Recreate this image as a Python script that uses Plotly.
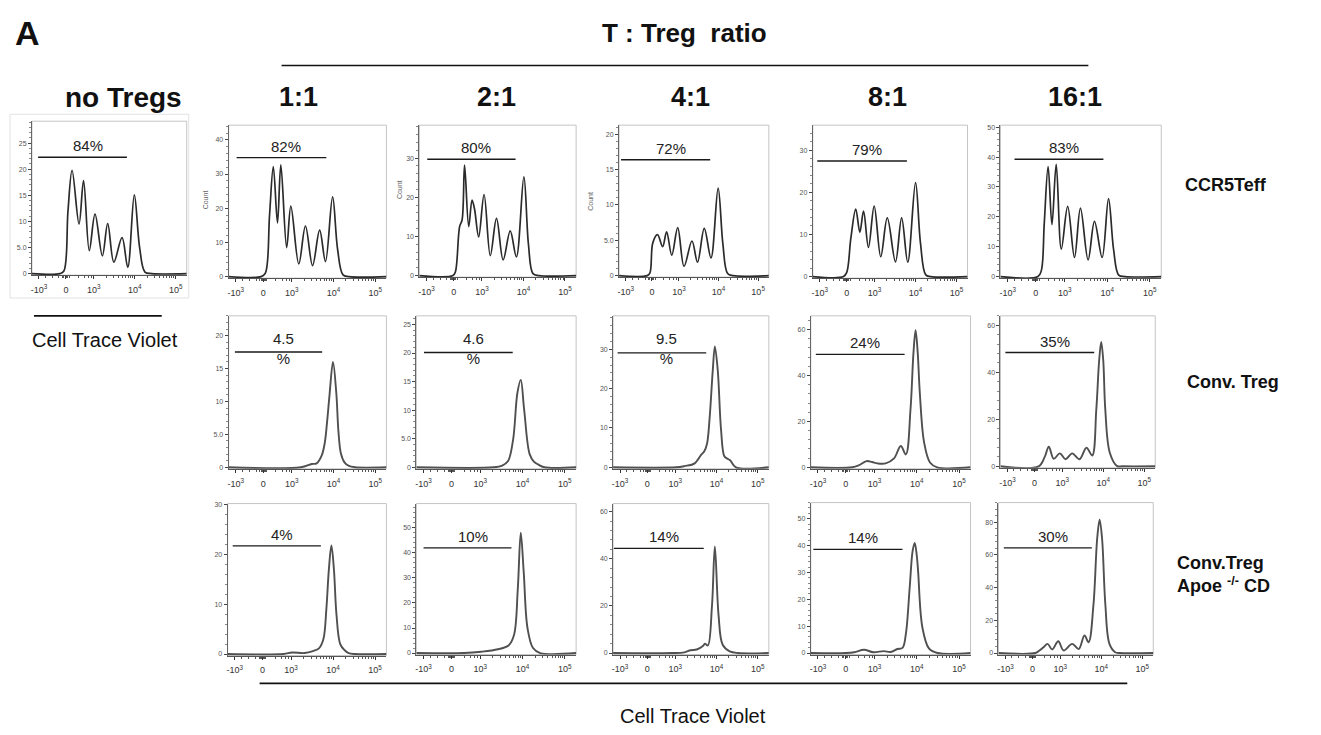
import math
import plotly.graph_objects as go

W, H = 1321, 735

# ---------------- axis tick definitions (biexponential display units) ----------------
x_tick_vals = [-0.66, 0.0, 0.68, 1.68, 2.68]
x_tick_text = ["-10<sup>3</sup>", "0", "10<sup>3</sup>", "10<sup>4</sup>", "10<sup>5</sup>"]

# ---------------- CCR5Teff row (Cell Trace Violet histograms) ----------------
teff_none_x = [-0.83, -0.15, -0.05, 0.05, 0.15, 0.32, 0.43, 0.57, 0.71, 0.89, 1.02, 1.17, 1.37, 1.51, 1.67, 1.80, 1.93, 2.10, 2.95]
teff_none_y = [0, 0, 0.5, 12, 19.8, 9.5, 17.8, 4.4, 11.4, 3.4, 9.6, 2.2, 6.9, 1.2, 15.1, 5, 0.3, 0, 0]

teff_1_x = [-0.83, -0.05, 0.05, 0.15, 0.24, 0.34, 0.42, 0.56, 0.66, 0.85, 1.01, 1.18, 1.35, 1.49, 1.66, 1.78, 1.91, 2.05, 2.95]
teff_1_y = [0, 0, 1, 18, 32.2, 15.7, 32.7, 8.5, 20.6, 3.7, 14.8, 3.2, 13.6, 4.4, 23.3, 8, 0.5, 0, 0]

teff_2_x = [-0.83, -0.02, 0.04, 0.14, 0.20, 0.26, 0.36, 0.44, 0.50, 0.60, 0.73, 0.88, 1.03, 1.19, 1.36, 1.51, 1.69, 1.80, 1.91, 2.05, 2.95]
teff_2_y = [0, 0, 1, 12.5, 14.2, 28.2, 12.5, 19.3, 17, 9.9, 20.7, 5.1, 14.6, 4.0, 11.4, 4.8, 25.2, 8, 0.5, 0, 0]

teff_4_x = [-0.83, -0.12, -0.05, 0.02, 0.14, 0.27, 0.37, 0.50, 0.65, 0.81, 1.01, 1.15, 1.32, 1.49, 1.67, 1.79, 1.91, 2.05, 2.95]
teff_4_y = [0, 0, 0.4, 4.6, 5.8, 4.1, 6.2, 2.9, 6.8, 1.3, 4.9, 1.9, 6.7, 2.5, 12.4, 4.5, 0.3, 0, 0]

teff_8_x = [-0.83, -0.08, 0.0, 0.10, 0.22, 0.32, 0.41, 0.53, 0.67, 0.83, 0.99, 1.19, 1.34, 1.49, 1.68, 1.80, 1.93, 2.05, 2.95]
teff_8_y = [0, 0, 1, 9.1, 16.0, 10.5, 15.5, 6.9, 16.7, 4.7, 13.9, 3.5, 13.9, 3.4, 22.3, 8, 0.4, 0, 0]

teff_16_x = [-0.83, 0.05, 0.13, 0.20, 0.29, 0.38, 0.48, 0.60, 0.75, 0.91, 1.05, 1.23, 1.38, 1.56, 1.71, 1.83, 1.95, 2.10, 2.95]
teff_16_y = [0, 0, 2, 18, 36.8, 17.4, 37.6, 9.2, 23.5, 6.4, 22.9, 5.6, 18.5, 6.4, 26.1, 9, 0.5, 0, 0]

# ---------------- Conv. Treg row ----------------
treg_1_x = [-0.83, 0.90, 1.16, 1.28, 1.40, 1.47, 1.53, 1.59, 1.67, 1.75, 1.80, 1.86, 1.95, 2.05, 2.20, 2.95]
treg_1_y = [0, 0, 0.5, 0.6, 1.8, 3.6, 7, 11.2, 16.0, 11.2, 5.5, 2.1, 0.7, 0.2, 0, 0]

treg_2_x = [-0.83, 1.00, 1.20, 1.34, 1.46, 1.56, 1.64, 1.72, 1.85, 1.95, 2.05, 2.20, 2.95]
treg_2_y = [0, 0, 0.3, 1.1, 4.9, 13.0, 15.3, 10.1, 2.3, 1.0, 0.5, 0, 0]

treg_4_x = [-0.83, 0.70, 0.90, 1.15, 1.31, 1.38, 1.45, 1.51, 1.59, 1.64, 1.71, 1.79, 1.87, 1.94, 2.01, 2.15, 2.95]
treg_4_y = [0, 0, 0.3, 1.0, 3.2, 4.0, 6, 12.1, 24.7, 30.7, 24.7, 9.6, 2.8, 2.2, 1.8, 0, 0]

treg_8_x = [-0.83, 0.15, 0.30, 0.49, 0.62, 0.75, 0.94, 1.14, 1.30, 1.42, 1.53, 1.60, 1.65, 1.70, 1.75, 1.85, 1.99, 2.16, 2.95]
treg_8_y = [0, 0, 0.8, 2.7, 2.3, 1.7, 1.7, 3.9, 9.3, 5.6, 25.3, 50, 59.7, 50, 32.5, 11.0, 2.1, 0, 0]

treg_16_x = [-0.83, 0.10, 0.25, 0.35, 0.47, 0.62, 0.76, 0.92, 1.10, 1.27, 1.41, 1.51, 1.58, 1.63, 1.68, 1.73, 1.84, 2.02, 2.15, 2.95]
treg_16_y = [0, 0, 4, 8.3, 3.2, 5.5, 3.0, 5.5, 3.0, 7.9, 4.6, 24.1, 45, 52.9, 45, 24.1, 5.8, 0.1, 0, 0]

# ---------------- Conv.Treg Apoe-/- CD row ----------------
apoe_1_x = [-0.83, 0.50, 0.70, 1.00, 1.20, 1.35, 1.45, 1.52, 1.58, 1.64, 1.70, 1.76, 1.85, 1.95, 2.05, 2.20, 2.95]
apoe_1_y = [0, 0, 0.3, 0.2, 0.6, 1.2, 3, 9, 17, 21.8, 17, 8, 2, 0.8, 0.2, 0, 0]

apoe_2_x = [-0.83, 0.30, 0.70, 1.10, 1.35, 1.48, 1.57, 1.64, 1.71, 1.80, 1.93, 2.10, 2.95]
apoe_2_y = [0, 0, 0.5, 1.5, 3, 7.2, 25.7, 48.1, 32.3, 9.9, 2, 0, 0]

apoe_4_x = [-0.83, 0.60, 0.90, 1.05, 1.20, 1.35, 1.40, 1.47, 1.57, 1.64, 1.73, 1.83, 2.00, 2.20, 2.95]
apoe_4_y = [0, 0, 0.3, 1.2, 1.5, 3.0, 4.0, 3.2, 20, 45.2, 16, 3.5, 0.7, 0, 0]

apoe_8_x = [-0.83, 0.0, 0.20, 0.43, 0.65, 0.90, 1.06, 1.22, 1.34, 1.42, 1.51, 1.58, 1.63, 1.68, 1.71, 1.81, 1.97, 2.17, 2.95]
apoe_8_y = [0, 0, 0.3, 1.2, 0.3, 0.7, 0.4, 1.5, 1.9, 7.1, 24.3, 38, 41, 36, 30.4, 9.6, 1.6, 0, 0]

apoe_16_x = [-0.83, 0.07, 0.17, 0.27, 0.37, 0.48, 0.63, 0.76, 0.97, 1.13, 1.27, 1.37, 1.49, 1.58, 1.64, 1.70, 1.78, 1.88, 2.02, 2.13, 2.95]
apoe_16_y = [0, 0, 1.5, 3.6, 5.6, 2.2, 7.2, 1.6, 5.6, 2.4, 10.7, 6.6, 29.7, 69.9, 81.5, 69.9, 29.7, 5.6, 0.5, 0, 0]

# ---------------- gates (start, end, height, label) ----------------
gate_teff_x0 = [-0.68, -0.64, -0.64, -0.78, -0.72, -0.50]
gate_teff_x1 = [1.49, 1.51, 1.49, 1.47, 1.47, 1.59]
gate_teff_y = [22.3, 34.8, 29.7, 16.4, 27.4, 39.3]
gate_teff_label = ["84%", "82%", "80%", "72%", "79%", "83%"]

gate_treg_x0 = [-0.68, -0.65, -0.72, -0.71, -0.71]
gate_treg_x1 = [1.41, 1.45, 1.43, 1.39, 1.46]
gate_treg_y = [17.5, 20.1, 29.1, 49.2, 48.4]
gate_treg_label = ["4.5<br>%", "4.6<br>%", "9.5<br>%", "24%", "35%"]

gate_apoe_x0 = [-0.71, -0.66, -0.81, -0.77, -0.70]
gate_apoe_x1 = [1.39, 1.42, 1.37, 1.34, 1.45]
gate_apoe_y = [21.7, 42.0, 44.4, 38.6, 64.3]
gate_apoe_label = ["4%", "10%", "14%", "14%", "30%"]

# ---------------- y axis ticks ----------------
yt_teff = [[0, 5, 10, 15, 20, 25], [0, 10, 20, 30, 40], [0, 10, 20, 30], [0, 5, 10, 15, 20], [0, 10, 20, 30], [0, 10, 20, 30, 40, 50]]
yt_treg = [[0, 5, 10, 15, 20], [0, 5, 10, 15, 20, 25], [0, 10, 20, 30], [0, 20, 40, 60], [0, 20, 40, 60]]
yt_apoe = [[0, 10, 20, 30], [0, 10, 20, 30, 40, 50], [0, 20, 40, 60], [0, 10, 20, 30, 40, 50], [0, 20, 40, 60, 80]]
ytop_teff = [29.2, 44.3, 38.4, 21.3, 35.9, 50.7]
ytop_treg = [23.0, 26.5, 38.5, 66.0, 64.0]
ytop_apoe = [30.2, 59.7, 63.4, 56.0, 92.0]

column_labels = ["no Tregs", "1:1", "2:1", "4:1", "8:1", "16:1"]
row_labels = ["CCR5Teff", "Conv. Treg", "Conv.Treg<br>Apoe <sup>-/-</sup> CD"]

# ---------------- layout boxes (pixels: left, top, right, bottom) ----------------
boxes_teff = [(30, 119, 185, 274), (227, 123, 385, 277), (418, 123, 575, 276), (618, 123, 768, 276), (812, 123, 967, 277), (1000, 123, 1161, 277)]
boxes_treg = [(227, 315, 385, 469), (415, 315, 575, 469), (612, 315, 768, 469), (810, 315, 970, 469), (1000, 315, 1155, 468)]
boxes_apoe = [(226, 504, 385, 657), (415, 504, 575, 656), (612, 504, 768, 656), (810, 503, 970, 656), (998, 503, 1153, 656)]

panels = []
teff_curves = [(teff_none_x, teff_none_y), (teff_1_x, teff_1_y), (teff_2_x, teff_2_y), (teff_4_x, teff_4_y), (teff_8_x, teff_8_y), (teff_16_x, teff_16_y)]
treg_curves = [(treg_1_x, treg_1_y), (treg_2_x, treg_2_y), (treg_4_x, treg_4_y), (treg_8_x, treg_8_y), (treg_16_x, treg_16_y)]
apoe_curves = [(apoe_1_x, apoe_1_y), (apoe_2_x, apoe_2_y), (apoe_4_x, apoe_4_y), (apoe_8_x, apoe_8_y), (apoe_16_x, apoe_16_y)]

for i in range(6):
    panels.append(dict(curve=teff_curves[i], gate=(gate_teff_x0[i], gate_teff_x1[i], gate_teff_y[i], gate_teff_label[i]),
                       yt=yt_teff[i], ytop=ytop_teff[i], box=boxes_teff[i], color="#2b2b2b", width=1.7))
for i in range(5):
    panels.append(dict(curve=treg_curves[i], gate=(gate_treg_x0[i], gate_treg_x1[i], gate_treg_y[i], gate_treg_label[i]),
                       yt=yt_treg[i], ytop=ytop_treg[i], box=boxes_treg[i], color="#505050", width=1.9))
for i in range(5):
    panels.append(dict(curve=apoe_curves[i], gate=(gate_apoe_x0[i], gate_apoe_x1[i], gate_apoe_y[i], gate_apoe_label[i]),
                       yt=yt_apoe[i], ytop=ytop_apoe[i], box=boxes_apoe[i], color="#505050", width=1.9))

# minor ticks on the x axis (log decades + linear region)
minor_x = [-0.50, -0.33, -0.17, -0.08, -0.05, -0.02, 0.02, 0.05, 0.08, 0.30, 0.45, 0.55, 0.62]
for base in (0.68, 1.68):
    for k in range(2, 10):
        minor_x.append(round(base + math.log10(k), 3))

fig = go.Figure()
shapes = []
annotations = []
layout_axes = {}

for n, p in enumerate(panels, start=1):
    sfx = "" if n == 1 else str(n)
    xref, yref = "x" + sfx, "y" + sfx
    l, t, r, b = p["box"]
    cx, cy = p["curve"]
    fig.add_trace(go.Scatter(x=cx, y=cy, mode="lines", xaxis=xref, yaxis=yref,
                             line=dict(color=p["color"], width=p["width"], shape="spline", smoothing=1.0),
                             hoverinfo="skip", showlegend=False))
    g0, g1, gy, glab = p["gate"]
    fig.add_trace(go.Scatter(x=[g0, g1], y=[gy, gy], mode="lines", xaxis=xref, yaxis=yref,
                             line=dict(color="#1a1a1a", width=1.4), hoverinfo="skip", showlegend=False))
    two_line = "<br>" in glab
    annotations.append(dict(x=(g0 + g1) / 2, y=gy, xref=xref, yref=yref, text=glab, showarrow=False,
                            xanchor="center", yanchor="middle" if two_line else "bottom",
                            yshift=4 if two_line else 1, xshift=5,
                            font=dict(family="Liberation Sans, Arial", size=15, color="#222")))
    yt = p["yt"]
    step = yt[1] - yt[0]
    ytext = [("5.0" if v == 5 else str(v)) for v in yt]
    layout_axes["xaxis" + sfx] = dict(domain=[l / W, r / W], anchor=yref, range=[-0.83, 2.95],
                                      tickmode="array", tickvals=x_tick_vals, ticktext=x_tick_text,
                                      ticks="outside", ticklen=3, tickwidth=1, tickcolor="#333",
                                      showline=True, linecolor="#555", linewidth=1, showgrid=False, zeroline=False,
                                      tickfont=dict(family="Liberation Sans, Arial", size=9, color="#333"),
                                      ticklabelstandoff=3,
                                      minor=dict(tickmode="array", tickvals=minor_x, ticklen=2, tickcolor="#555", showgrid=False))
    layout_axes["yaxis" + sfx] = dict(domain=[1 - b / H, 1 - t / H], anchor=xref, range=[-0.01 * p["ytop"], p["ytop"]],
                                      tickmode="array", tickvals=yt, ticktext=ytext,
                                      ticks="outside", ticklen=3, tickwidth=1, tickcolor="#444",
                                      showline=True, linecolor="#666", linewidth=1, showgrid=False, zeroline=False,
                                      tickfont=dict(family="Liberation Sans, Arial", size=7, color="#555"),
                                      minor=dict(tick0=0, dtick=step / 5, ticklen=2, tickcolor="#888", showgrid=False))
    shapes.append(dict(type="rect", xref=xref + " domain", yref=yref + " domain", x0=0, x1=1, y0=0, y1=1,
                       line=dict(color="#c4c4c4", width=1), layer="below"))

fig.update_layout(**layout_axes)


def px(x):
    return x / W


def py(y):
    return 1 - y / H


# faint outer frame around the 'no Tregs' panel
shapes.append(dict(type="rect", xref="paper", yref="paper", x0=px(8), x1=px(187), y0=py(297), y1=py(112),
                   line=dict(color="#e2e2e2", width=1), layer="below"))
# header rule, left CTV rule, bottom CTV rule
shapes.append(dict(type="line", xref="paper", yref="paper", x0=px(280), x1=px(1088), y0=py(63), y1=py(63), line=dict(color="#111", width=1.6)))
shapes.append(dict(type="line", xref="paper", yref="paper", x0=px(32), x1=px(160), y0=py(315), y1=py(315), line=dict(color="#111", width=1.6)))
shapes.append(dict(type="line", xref="paper", yref="paper", x0=px(258), x1=px(1127), y0=py(685), y1=py(685), line=dict(color="#111", width=1.6)))

narrow = "Liberation Sans Narrow, Arial Narrow, Liberation Sans, Arial"
bold_font = "Liberation Sans, Arial"


def paper_text(x, y, text, size, family=bold_font, xanchor="center", **kw):
    annotations.append(dict(x=px(x), y=py(y), xref="paper", yref="paper", text=text, showarrow=False,
                            xanchor=xanchor, yanchor="middle", font=dict(family=family, size=size, color="#111"), **kw))


paper_text(26, 30, "<b>A</b>", 34)
paper_text(684, 30, "<b>T : Treg  ratio</b>", 26, family=narrow)

col_x = [122, 297, 495, 690, 887, 1075]
for cx_, lab in zip(col_x, column_labels):
    paper_text(cx_, 95, "<b>" + lab + "</b>", 28 if lab == "no Tregs" else 27,
               family=bold_font if lab == "no Tregs" else narrow)

row_pos = [(1183, 183), (1185, 382), (1175, 575)]
for (rx, ry), lab in zip(row_pos, row_labels):
    paper_text(rx, ry, "<b>" + lab + "</b>", 18, xanchor="left", align="left")

paper_text(103, 339, "Cell Trace Violet", 20)
paper_text(692, 718, "Cell Trace Violet", 20)

# tiny 'Count' axis titles
for (cx_, cy_) in [(204, 198), (398, 188), (590, 200)]:
    annotations.append(dict(x=px(cx_), y=py(cy_), xref="paper", yref="paper", text="Count", showarrow=False,
                            xanchor="center", yanchor="middle",
                            textangle=-90, font=dict(family=bold_font, size=7, color="#666")))

fig.update_layout(width=W, height=H, margin=dict(l=0, r=0, t=0, b=0),
                  paper_bgcolor="white", plot_bgcolor="white",
                  shapes=shapes, annotations=annotations, showlegend=False)

fig.write_html("out.html", config={"displayModeBar": False},
               post_script="document.body.style.margin='0px';")
